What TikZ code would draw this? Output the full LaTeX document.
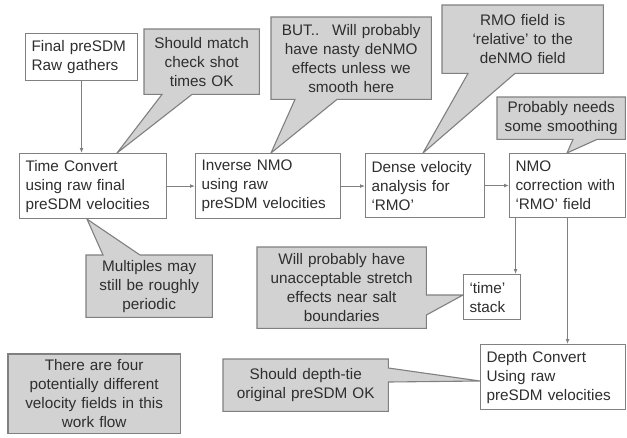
\documentclass[tikz,border=0pt]{standalone}
\usepackage{fontspec}
\setmainfont{Liberation Sans}
\usetikzlibrary{arrows.meta,backgrounds}
\definecolor{edge}{HTML}{808080}
\definecolor{callfill}{HTML}{D2D2D2}
\definecolor{ink}{HTML}{2E2E2E}
\tikzset{
  txt/.style={font=\fontsize{15.3}{19}\selectfont, text=ink},
  wbox/.style={txt, draw=edge, line width=1.1pt, fill=white, anchor=north west,
    inner xsep=6pt, inner ysep=0pt, align=left},
  cnode/.style={txt, anchor=north west, inner sep=0pt, align=center},
  cshape/.style={draw=edge, line width=1.1pt, fill=callfill, line join=miter},
  link/.style={draw=edge, line width=1.1pt, -{Latex[length=5pt,width=4pt]}}
}
\begin{document}
\begin{tikzpicture}[x=1pt,y=-1pt]
\useasboundingbox (0,0) rectangle (627,437);

% white process boxes
\node[wbox, minimum width=112pt, minimum height=47pt, text width=100pt] (final) at (25,33) {Final preSDM\\Raw gathers};
\node[wbox, minimum width=147pt, minimum height=65pt, text width=135pt] (time) at (19,153) {Time Convert\\using raw final\\preSDM velocities};
\node[wbox, minimum width=145pt, minimum height=65pt, text width=133pt] (inv) at (195,153) {Inverse NMO\\using raw\\preSDM velocities};
\node[wbox, minimum width=119pt, minimum height=64pt, text width=107pt] (dense) at (365,153) {Dense velocity\\analysis for\\‘RMO’};
\node[wbox, minimum width=116pt, minimum height=64pt, text width=104pt] (nmo) at (509,153) {NMO\\correction with\\‘RMO’ field};
\node[wbox, minimum width=57pt, minimum height=45pt, text width=45pt, inner xsep=5pt] (stack) at (463,274) {‘time’\\stack};
\node[wbox, minimum width=145pt, minimum height=65pt, text width=133pt] (depth) at (480,344) {Depth Convert\\Using raw\\preSDM velocities};

% callout texts
\node[cnode, minimum width=115pt, minimum height=65pt, text width=110pt] (match) at (144,29) {Should match\\check shot\\times OK};
\node[cnode, minimum width=160pt, minimum height=82pt, text width=156pt] (but) at (271,17) {BUT..~ Will probably\\have nasty deNMO\\effects unless we\\smooth here};
\node[cnode, minimum width=161pt, minimum height=68pt, text width=156pt] (rmo) at (442,5) {RMO field is\\‘relative’ to the\\deNMO field};
\node[cnode, minimum width=128pt, minimum height=42pt, text width=124pt] (prob) at (497,97) {Probably needs\\some smoothing};
\node[cnode, minimum width=126pt, minimum height=62pt, text width=122pt] (mult) at (86,255) {Multiples may\\still be roughly\\periodic};
\node[cnode, minimum width=169pt, minimum height=81pt, text width=165pt] (will) at (257,247) {Will probably have\\unacceptable stretch\\effects near salt\\boundaries};
\node[cnode, minimum width=165pt, minimum height=52pt, text width=161pt] (tie) at (223,359) {Should depth-tie\\original preSDM OK};
\node[cnode, minimum width=172pt, minimum height=79pt, text width=168pt] (four) at (8,354) {There are four\\potentially different\\velocity fields in this\\work flow};

\begin{scope}[on background layer]
  \fill[white] (0,0) rectangle (627,437);
  \path[cshape] (match.north west) -- (match.north east) -- (match.south east)
    -- ([xshift=48pt]match.south west) -- ([xshift=98pt]time.north west)
    -- ([xshift=18pt]match.south west) -- (match.south west) -- cycle;
  \path[cshape] (but.north west) -- (but.north east) -- (but.south east)
    -- ([xshift=66pt]but.south west) -- ([xshift=76pt]inv.north west)
    -- ([xshift=24pt]but.south west) -- (but.south west) -- cycle;
  \path[cshape] (rmo.north west) -- (rmo.north east) -- (rmo.south east)
    -- ([xshift=73pt]rmo.south west) -- ([xshift=58pt]dense.north west)
    -- ([xshift=26pt]rmo.south west) -- (rmo.south west) -- cycle;
  \path[cshape] (prob.north west) -- (prob.north east) -- (prob.south east)
    -- ([xshift=100pt]prob.south west) -- ([xshift=58pt]nmo.north west)
    -- ([xshift=76pt]prob.south west) -- (prob.south west) -- cycle;
  \path[cshape] (mult.south west) -- (mult.south east) -- (mult.north east)
    -- ([xshift=54pt]mult.north west) -- ([xshift=68pt]time.south west)
    -- ([xshift=17pt]mult.north west) -- (mult.north west) -- cycle;
  \path[cshape] (will.north west) -- (will.north east) -- ([yshift=-48pt]will.north east)
    -- ([yshift=-21pt]stack.north west) -- ([yshift=-68pt]will.north east)
    -- (will.south east) -- (will.south west) -- cycle;
  \path[cshape] (tie.north west) -- (tie.north east) -- ([yshift=-9pt]tie.north east)
    -- ([yshift=-37pt]depth.north west) -- ([yshift=-23pt]tie.north east)
    -- (tie.south east) -- (tie.south west) -- cycle;
  \path[cshape] (four.north west) rectangle (four.south east);
\end{scope}

% connectors
\draw[link] (final.south) -- (final.south |- time.north);
\draw[link] (time.east) -- (time.east -| inv.west);
\draw[link] (inv.east) -- (inv.east -| dense.west);
\draw[link] (dense.east) -- (dense.east -| nmo.west);
\draw[link] ([xshift=6.55pt]nmo.south west) -- ([xshift=6.55pt]nmo.south west |- stack.north);
\draw[link] (nmo.south) -- (nmo.south |- depth.north);
\end{tikzpicture}
\end{document}
